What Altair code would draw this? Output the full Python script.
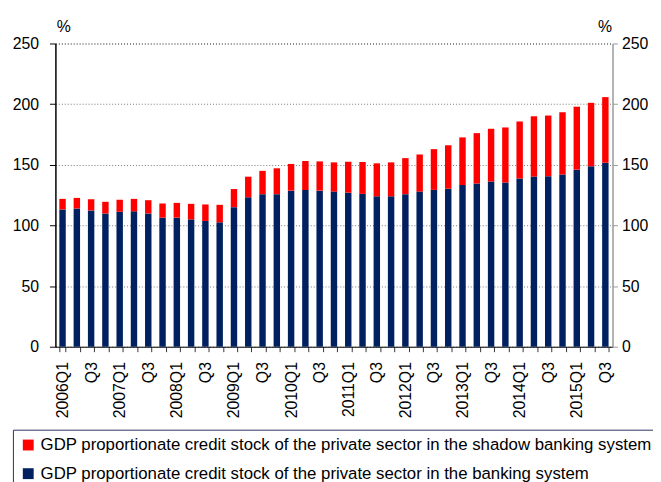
import altair as alt
import pandas as pd

quarters = [f"{y}Q{q}" for y in range(2006, 2016) for q in (1, 2, 3, 4)][:39]

bank = [113.2, 114.0, 112.4, 109.9, 111.3, 111.6, 109.9, 106.4, 106.4, 105.0,
        103.7, 102.6, 115.1, 123.2, 125.8, 125.8, 128.7, 129.2, 128.7, 127.9,
        127.0, 126.0, 124.0, 124.0, 125.8, 127.9, 129.3, 130.3, 133.3, 134.6,
        136.2, 135.4, 138.7, 140.3, 140.6, 141.9, 146.0, 148.8, 151.7]

shadow = [8.7, 8.7, 9.2, 9.6, 9.8, 10.3, 10.9, 11.7, 12.2, 12.8,
          13.6, 14.4, 14.9, 17.0, 19.2, 21.3, 22.0, 23.9, 24.1, 24.1,
          25.5, 26.3, 27.2, 28.0, 29.7, 30.6, 33.6, 35.8, 39.3, 41.5,
          43.5, 45.4, 47.0, 49.7, 50.0, 51.4, 51.9, 52.3, 54.1]

s_shadow = "GDP proportionate credit stock of the private sector in the shadow banking system"
s_bank = "GDP proportionate credit stock of the private sector in the banking system"

y_ticks = [0, 50, 100, 150, 200, 250]

rows = []
for q, b, s in zip(quarters, bank, shadow):
    rows.append({"quarter": q, "series": s_bank, "value": b, "ord": 0})
    rows.append({"quarter": q, "series": s_shadow, "value": s, "ord": 1})
df = pd.DataFrame(rows)

FONT = "Liberation Sans"

xenc = alt.X(
    "quarter:N",
    sort=quarters,
    scale=alt.Scale(paddingInner=0.55, paddingOuter=0.275),
    axis=alt.Axis(
        title=None, labelAngle=-90, tickSize=5, tickBand="extent",
        labelPadding=10, labelFontSize=16, labelColor="black",
        domainColor="black", tickColor="#333333",
        labelExpr="isString(datum.value) ? (indexof(datum.value,'Q1')>0 ? datum.value : (indexof(datum.value,'Q3')>0 ? 'Q3' : '')) : ''",
    ),
)

bars = alt.Chart(df).mark_bar().encode(
    x=xenc,
    y=alt.Y(
        "value:Q",
        stack="zero",
        scale=alt.Scale(domain=[0, 250]),
        axis=alt.Axis(
            values=y_ticks, title="%", titleAngle=0, titleX=8, titleY=-17,
            titleAlign="center", titleBaseline="middle", titleFontSize=16,
            titleFontWeight="normal", grid=True, gridDash=[1, 2],
            gridColor=alt.condition("datum.value == 250", alt.value("#888888"), alt.value("#777777")),
            gridWidth=alt.condition("datum.value == 250", alt.value(2), alt.value(1)),
            tickSize=6, labelPadding=11, labelFontSize=16,
            labelColor="black", domainColor="black", domainWidth=1.5,
            tickColor="black",
        ),
    ),
    color=alt.Color(
        "series:N",
        scale=alt.Scale(domain=[s_shadow, s_bank], range=["#FF0000", "#002060"]),
        legend=alt.Legend(
            title=None, orient="none", legendX=-43, legendY=391,
            strokeColor="#303060", fillColor="white", padding=7,
            symbolType="square", symbolSize=121, symbolStrokeWidth=0,
            labelFontSize=17, labelLimit=1000, rowPadding=11, labelOffset=4,
            labelColor="black",
        ),
    ),
    order=alt.Order("ord:Q"),
)

right = alt.Chart(df).mark_bar(opacity=0).encode(
    x=alt.X("quarter:N", sort=quarters),
    y=alt.Y(
        "value:Q",
        stack="zero",
        scale=alt.Scale(domain=[0, 250]),
        axis=alt.Axis(
            orient="right", values=y_ticks, title="%", titleAngle=0,
            titleX=-8, titleY=-17, titleAlign="center",
            titleBaseline="middle", titleFontSize=16, titleFontWeight="normal",
            grid=False, tickSize=5, labelPadding=4, labelFontSize=16,
            labelColor="black", domainColor="#999999", domainWidth=1.5,
            tickColor="#999999",
        ),
    ),
    order=alt.Order("ord:Q"),
)

chart = alt.layer(bars, right).resolve_scale(y="shared").resolve_axis(
    y="independent"
).properties(
    width=564, height=307,
    padding={"left": 48, "top": 33, "right": 41, "bottom": 134},
    autosize=alt.AutoSizeParams(type="none"),
).configure(font=FONT).configure_view(stroke=None)

chart.save("out.html", embed_options={"renderer": "svg", "actions": False})
